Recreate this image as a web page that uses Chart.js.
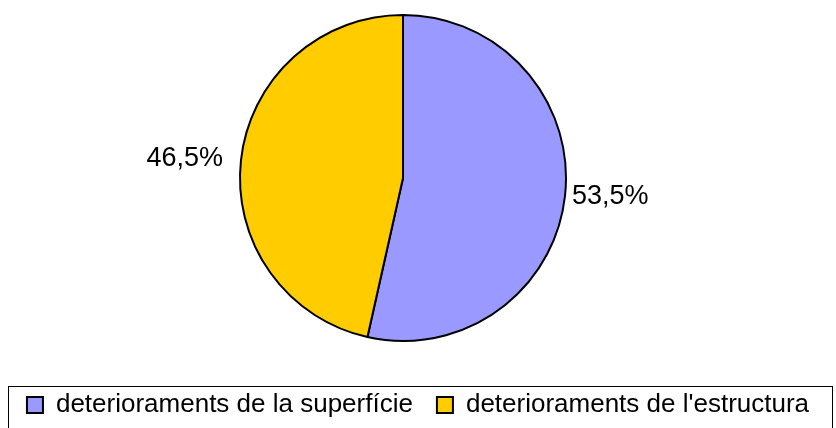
<!DOCTYPE html>
<html>
<head>
<meta charset="utf-8">
<script src="https://cdn.jsdelivr.net/npm/chart.js@4"></script>
<style>
  html, body { margin: 0; padding: 0; background: #ffffff; }
  #wrap { width: 836px; height: 428px; position: relative; }
</style>
</head>
<body>
<div id="wrap"><canvas id="c" width="836" height="428"></canvas></div>
<script>
// ---- data ----
const categories = ['deterioraments de la superfície', "deterioraments de l'estructura"];
const values = [53.5, 46.5];
const valueLabels = ['53,5%', '46,5%'];
const colors = ['#9999FF', '#FFCC00'];

const FONT = '"Liberation Sans", Arial, sans-serif';

const sliceLabels = {
  id: 'sliceLabels',
  afterDatasetsDraw(chart) {
    const ctx = chart.ctx;
    const meta = chart.getDatasetMeta(0);
    ctx.save();
    ctx.font = '27px ' + FONT;
    ctx.fillStyle = '#000';
    ctx.textBaseline = 'middle';
    meta.data.forEach((arc, i) => {
      const p = arc.getProps(['x', 'y', 'startAngle', 'endAngle', 'outerRadius'], true);
      const mid = (p.startAngle + p.endAngle) / 2;
      const right = Math.cos(mid) >= 0;
      const off = right ? 7 : 18;
      const r = p.outerRadius + off;
      const x = p.x + Math.cos(mid) * r;
      const y = p.y + Math.sin(mid) * r;
      ctx.textAlign = right ? 'left' : 'right';
      ctx.fillText(valueLabels[i], x, y);
    });
    ctx.restore();
  }
};

const legendFrame = {
  id: 'legendFrame',
  afterDraw(chart) {
    const lg = chart.legend;
    if (!lg || !lg.legendHitBoxes || !lg.legendHitBoxes.length) return;
    const ctx = chart.ctx;
    const top = lg.legendHitBoxes[0].top - 6;
    ctx.save();
    ctx.strokeStyle = '#000';
    ctx.lineWidth = 1;
    ctx.strokeRect(8.5, Math.round(top) + 0.5, 824, 60);
    ctx.restore();
  }
};

new Chart(document.getElementById('c'), {
  type: 'pie',
  data: {
    labels: categories,
    datasets: [{
      data: values,
      backgroundColor: colors,
      borderColor: '#000000',
      borderWidth: 2
    }]
  },
  options: {
    responsive: false,
    animation: false,
    radius: 163,
    layout: { padding: 0 },
    plugins: {
      tooltip: { enabled: false },
      title: {
        display: true,
        text: ' ',
        position: 'right',
        fullSize: false,
        font: { size: 10, lineHeight: 1.2 },
        padding: 9
      },
      legend: {
        position: 'bottom',
        align: 'center',
        title: {
          display: true,
          text: ' ',
          font: { size: 12, lineHeight: 1 },
          padding: 0
        },
        labels: {
          font: { family: FONT, size: 26 },
          color: '#000',
          boxWidth: 16,
          boxHeight: 16,
          padding: 24
        }
      }
    }
  },
  plugins: [sliceLabels, legendFrame]
});
</script>
</body>
</html>
